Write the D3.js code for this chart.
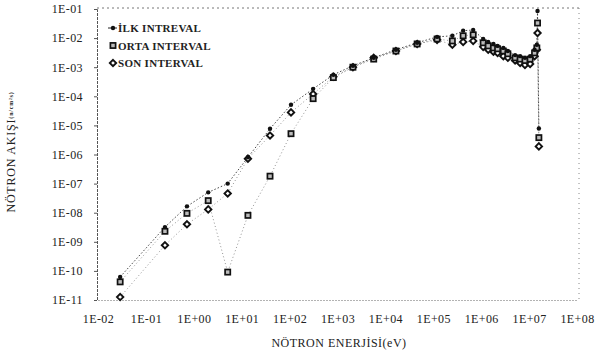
<!DOCTYPE html>
<html>
<head>
<meta charset="utf-8">
<script src="https://cdn.jsdelivr.net/npm/d3@7"></script>
<style>
  body { margin: 0; background: #fff; }
  svg text { font-family: "Liberation Serif", "Times New Roman", serif; fill: #222; }
</style>
</head>
<body>
<div id="chart"></div>
<script>
// neutron energy (eV), shared by the three intervals
var energy = [0.029, 0.25, 0.72, 2.0, 5.1, 13.5, 39, 107, 310, 820, 2100, 5700, 16600, 46000,
  1.2e5, 2.5e5, 4.2e5, 6.8e5, 1.1e6, 1.4e6, 1.8e6, 2.2e6, 2.9e6, 3.6e6, 5.1e6, 6.5e6, 8.2e6,
  1.05e7, 1.3e7, 1.45e7, 1.5e7, 1.6e7]

var ilkFlux = [6.2e-11, 3.2e-9, 1.65e-8, 5e-8, 1.0e-7, 8e-7, 7.7e-6, 5.1e-5, 1.8e-4, 5.5e-4, 1.12e-3, 2.1e-3, 4.0e-3, 6.9e-3,
  1.1e-2, 1.2e-2, 1.8e-2, 1.9e-2, 9.3e-3, 7.4e-3, 6.3e-3, 5.4e-3, 4.6e-3, 3.6e-3, 2.6e-3, 2.4e-3, 2.1e-3,
  2.4e-3, 4.0e-3, 5.9e-3, 8.5e-2, 7.8e-6]

var ortaFlux = [4.2e-11, 2.3e-9, 9.5e-9, 2.6e-8, 9.1e-11, 8.1e-9, 1.8e-7, 5.2e-6, 8.3e-5, 4.4e-4, 1.0e-3, 1.9e-3, 3.6e-3, 6.3e-3,
  9.3e-3, 8e-3, 1.2e-2, 1.3e-2, 6.9e-3, 5.4e-3, 4.6e-3, 4.3e-3, 3.6e-3, 2.9e-3, 2.1e-3, 1.9e-3, 1.7e-3,
  1.9e-3, 3.1e-3, 4.6e-3, 3.3e-2, 3.8e-6]

var sonFlux = [1.26e-11, 7.6e-10, 4.0e-9, 1.3e-8, 4.6e-8, 7.2e-7, 4.5e-6, 2.8e-5, 1.2e-4, 4.7e-4, 1.0e-3, 2.1e-3, 3.6e-3, 6.3e-3,
  8.7e-3, 5.9e-3, 7.4e-3, 8e-3, 5e-3, 4e-3, 3.4e-3, 3.1e-3, 2.4e-3, 2.1e-3, 1.7e-3, 1.4e-3, 1.2e-3,
  1.3e-3, 2.4e-3, 4e-3, 1.5e-2, 1.9e-6]

var seriesNames = ["İLK INTREVAL", "ORTA INTERVAL", "SON INTERVAL"]
var xTicks = [1e-2, 1e-1, 1e0, 1e1, 1e2, 1e3, 1e4, 1e5, 1e6, 1e7, 1e8]
var yTicks = [1e-11, 1e-10, 1e-9, 1e-8, 1e-7, 1e-6, 1e-5, 1e-4, 1e-3, 1e-2, 1e-1]

var width = 599, height = 359
var plotLeft = 97, plotRight = 579, plotTop = 8, plotBottom = 300

var svg = d3.select("#chart").append("svg")
    .attr("width", width)
    .attr("height", height)

var xScale = d3.scaleLog().domain([1e-2, 1e8]).range([plotLeft + 1, plotRight - 2])
var yScale = d3.scaleLog().domain([1e-11, 1e-1]).range([plotBottom, plotTop + 1])

function sci(v) {
  var e = Math.round(Math.log10(v))
  var s = Math.abs(e) < 10 ? "0" + Math.abs(e) : "" + Math.abs(e)
  return "1E" + (e < 0 ? "-" : "+") + s
}

// dotted frame
svg.append("line").attr("x1", plotLeft).attr("x2", plotRight).attr("y1", plotTop).attr("y2", plotTop)
    .attr("stroke", "#777").attr("stroke-dasharray", "2,3")
svg.append("line").attr("x1", plotRight).attr("x2", plotRight).attr("y1", plotTop).attr("y2", plotBottom)
    .attr("stroke", "#888").attr("stroke-dasharray", "1,4")

var xAxis = svg.append("g")
    .attr("transform", "translate(0," + plotBottom + ")")
    .call(d3.axisBottom(xScale).tickValues(xTicks).tickFormat(sci).tickSize(0).tickPadding(14))
xAxis.select(".domain").attr("stroke", "#666").attr("stroke-dasharray", "1,2")
xAxis.selectAll("text").attr("font-size", "12px").attr("letter-spacing", "0.4px")
    .attr("font-family", "Liberation Serif")

var yAxis = svg.append("g")
    .attr("transform", "translate(" + plotLeft + ",0)")
    .call(d3.axisLeft(yScale).tickValues(yTicks).tickFormat(sci).tickSize(3).tickPadding(11))
yAxis.select(".domain").attr("stroke", "#555").attr("stroke-dasharray", "3,1")
yAxis.selectAll(".tick line").attr("stroke", "#555")
yAxis.selectAll("text").attr("font-size", "12px").attr("letter-spacing", "0.4px")
    .attr("font-family", "Liberation Serif")

// axis titles
svg.append("text")
    .attr("x", 339).attr("y", 347)
    .attr("text-anchor", "middle")
    .attr("font-size", "12px")
    .attr("letter-spacing", "0.5px")
    .text("NÖTRON ENERJİSİ(eV)")

var yTitle = svg.append("text")
    .attr("transform", "translate(15,152) rotate(-90)")
    .attr("text-anchor", "middle")
    .attr("font-size", "12px")
    .attr("letter-spacing", "0.8px")
yTitle.append("tspan").text("NÖTRON AKIŞI")
yTitle.append("tspan").attr("font-size", "6px").attr("font-weight", "bold").attr("dy", "-2").text("(n/cm²s)")

var series = [ilkFlux, ortaFlux, sonFlux].map(function(f, i) {
  return { name: seriesNames[i], idx: i, points: energy.map(function(e, j) { return [e, f[j]] }) }
})

var line = d3.line()
    .x(function(d) { return xScale(d[0]) })
    .y(function(d) { return yScale(d[1]) })

svg.selectAll(".series-line")
    .data(series)
    .enter().append("path")
    .attr("class", "series-line")
    .attr("d", function(d) { return line(d.points) })
    .attr("fill", "none")
    .attr("stroke", function(d) { return d.idx == 0 ? "#333" : "#777" })
    .attr("stroke-width", function(d) { return d.idx == 0 ? 0.9 : 0.8 })
    .attr("stroke-dasharray", function(d) { return d.idx == 0 ? "1.5,2" : "1,2.5" })

function drawMarker(sel, idx) {
  if (idx == 0) {
    sel.append("circle").attr("r", 2.2).attr("fill", "#111")
  } else if (idx == 1) {
    sel.append("rect").attr("x", -2.6).attr("y", -2.6).attr("width", 5.2).attr("height", 5.2)
        .attr("fill", "#bbb").attr("stroke", "#111").attr("stroke-width", 1.7)
  } else {
    sel.append("path").attr("d", d3.symbol().type(d3.symbolDiamond2).size(26)())
        .attr("fill", "#fff").attr("stroke", "#111").attr("stroke-width", 1.9)
  }
}

// draw son first so ilk dots stay on top
;[2, 1, 0].forEach(function(i) {
  var s = series[i]
  svg.append("g").selectAll("g")
      .data(s.points)
      .enter().append("g")
      .attr("transform", function(d) { return "translate(" + xScale(d[0]) + "," + yScale(d[1]) + ")" })
      .each(function() { drawMarker(d3.select(this), i) })
})

// legend
var legend = svg.append("g")
legend.selectAll("g")
    .data(series)
    .enter().append("g")
    .attr("transform", function(d, i) { return "translate(113," + (28 + i * 17.5) + ")" })
    .each(function(d) {
      var g = d3.select(this)
      if (d.idx == 0) {
        g.append("line").attr("x1", -5).attr("x2", 4).attr("stroke", "#222").attr("stroke-width", 1)
      }
      drawMarker(g, d.idx)
      g.append("text").attr("x", 5).attr("y", 4)
          .attr("font-size", "11px").attr("font-weight", "bold")
          .attr("letter-spacing", "0.3px")
          .text(d.name)
    })
</script>
</body>
</html>
